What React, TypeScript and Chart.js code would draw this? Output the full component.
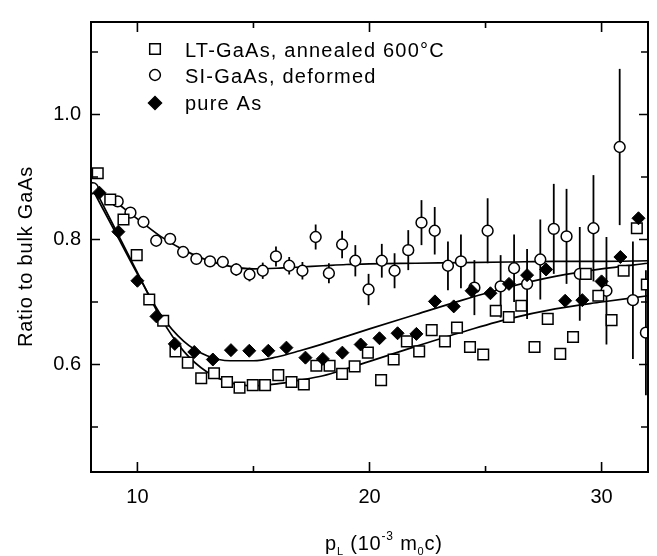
import { useEffect, useRef } from 'react';
import { Chart, registerables } from 'chart.js';

Chart.register(...registerables);

// ---- Data ----
const SQ_X = [8.29, 8.83, 9.40, 9.97, 10.51, 11.11, 11.64, 12.17, 12.75, 13.30, 13.86, 14.40, 14.97, 15.50, 16.07, 16.64, 17.17, 17.71, 18.28, 18.82, 19.36, 19.93, 20.50, 21.04, 21.61, 22.14, 22.68, 23.25, 23.77, 24.33, 24.90, 25.44, 26.00, 26.54, 27.11, 27.68, 28.22, 28.77, 29.32, 29.86, 30.43, 30.95, 31.52, 31.95];
const SQ_Y = [0.906, 0.864, 0.832, 0.775, 0.704, 0.670, 0.621, 0.603, 0.578, 0.586, 0.572, 0.563, 0.567, 0.567, 0.583, 0.572, 0.568, 0.598, 0.598, 0.585, 0.597, 0.619, 0.575, 0.608, 0.637, 0.621, 0.655, 0.637, 0.659, 0.628, 0.616, 0.686, 0.676, 0.694, 0.628, 0.673, 0.617, 0.644, 0.745, 0.710, 0.671, 0.750, 0.818, 0.728];

const CI_X = [8.08, 9.15, 9.70, 10.26, 10.81, 11.41, 11.97, 12.54, 13.13, 13.68, 14.26, 14.83, 15.40, 15.97, 16.54, 17.11, 17.68, 18.25, 18.82, 19.39, 19.96, 20.53, 21.08, 21.67, 22.24, 22.81, 23.38, 23.94, 24.52, 25.09, 25.65, 26.23, 26.79, 27.36, 27.94, 28.49, 29.06, 29.65, 30.21, 30.78, 31.35, 31.91];
const CI_Y = [0.882, 0.861, 0.843, 0.828, 0.798, 0.801, 0.780, 0.769, 0.765, 0.764, 0.752, 0.744, 0.750, 0.773, 0.758, 0.750, 0.804, 0.746, 0.792, 0.766, 0.720, 0.766, 0.750, 0.783, 0.827, 0.814, 0.758, 0.765, 0.723, 0.814, 0.725, 0.754, 0.729, 0.768, 0.817, 0.805, 0.745, 0.818, 0.718, 0.948, 0.703, 0.651];
const CI_ERR = [0.004, 0.004, 0.005, 0.005, 0.006, 0.006, 0.007, 0.008, 0.008, 0.009, 0.010, 0.011, 0.013, 0.016, 0.014, 0.014, 0.020, 0.016, 0.022, 0.025, 0.025, 0.027, 0.028, 0.032, 0.036, 0.038, 0.039, 0.043, 0.044, 0.052, 0.050, 0.054, 0.056, 0.064, 0.072, 0.076, 0.075, 0.085, 0.086, 0.125, 0.094, 0.100];

const DI_X = [8.36, 9.18, 10.0, 10.82, 11.61, 12.45, 13.25, 14.03, 14.82, 15.64, 16.42, 17.24, 17.99, 18.83, 19.62, 20.43, 21.21, 22.02, 22.82, 23.63, 24.40, 25.21, 26.01, 26.79, 27.61, 28.43, 29.17, 30.0, 30.81, 31.59];
const DI_Y = [0.875, 0.8125, 0.734, 0.677, 0.633, 0.620, 0.608, 0.623, 0.622, 0.622, 0.627, 0.611, 0.609, 0.619, 0.632, 0.642, 0.650, 0.649, 0.701, 0.693, 0.718, 0.714, 0.729, 0.743, 0.752, 0.702, 0.703, 0.733, 0.772, 0.834];

// fitted curves
const FIT_X = [8, 9, 10, 11, 12, 13, 14, 15, 16, 17, 18, 19, 20, 22, 24, 26, 28, 30, 32];
const FIT_SQ = [0.893, 0.820, 0.747, 0.675, 0.621, 0.588, 0.571, 0.566, 0.569, 0.575, 0.582, 0.593, 0.605, 0.629, 0.652, 0.673, 0.689, 0.700, 0.710];
const FIT_DI = [0.885, 0.815, 0.745, 0.680, 0.637, 0.614, 0.606, 0.606, 0.612, 0.622, 0.633, 0.645, 0.657, 0.680, 0.703, 0.724, 0.741, 0.753, 0.762];
const FIT_CI = [0.890, 0.862, 0.833, 0.805, 0.783, 0.767, 0.757, 0.753, 0.754, 0.756, 0.758, 0.760, 0.761, 0.762, 0.763, 0.764, 0.765, 0.765, 0.766];

const X_TICKS = [10, 15, 20, 25, 30];
const X_LABELED = [10, 20, 30];
const Y_TICKS = [0.5, 0.6, 0.7, 0.8, 0.9, 1.0, 1.1];
const Y_LABELED = [0.6, 0.8, 1.0];
const LEGEND_LABELS = ['LT-GaAs, annealed 600°C', 'SI-GaAs, deformed', 'pure As'];
const Y_TITLE = 'Ratio to bulk GaAs';

const FONT = "'Liberation Sans', Arial, Helvetica, sans-serif";

const isIn = (arr: number[], v: number) => arr.some((a) => Math.abs(a - v) < 1e-6);

function drawMarker(ctx: CanvasRenderingContext2D, kind: number, x: number, y: number) {
  ctx.beginPath();
  if (kind === 0) {
    const s = 5.3;
    ctx.rect(x - s, y - s, 2 * s, 2 * s);
    ctx.fillStyle = '#fff';
  } else if (kind === 1) {
    ctx.arc(x, y, 5.4, 0, Math.PI * 2);
    ctx.fillStyle = '#fff';
  } else {
    const r = 6.5;
    ctx.moveTo(x - r, y);
    ctx.lineTo(x, y - r);
    ctx.lineTo(x + r, y);
    ctx.lineTo(x, y + r);
    ctx.closePath();
    ctx.fillStyle = '#000';
  }
  ctx.fill();
  ctx.lineWidth = 1.5;
  ctx.strokeStyle = '#000';
  ctx.stroke();
}

const decorPlugin = {
  id: 'decor',
  beforeDatasetsDraw(chart: any) {
    const { ctx, chartArea: a, scales } = chart;
    const xs = scales.x;
    const ys = scales.y;
    ctx.save();
    ctx.beginPath();
    ctx.rect(a.left, a.top, a.right - a.left, a.bottom - a.top);
    ctx.clip();
    ctx.strokeStyle = '#000';
    ctx.lineWidth = 1.8;
    CI_X.forEach((xv, i) => {
      const px = xs.getPixelForValue(xv);
      ctx.beginPath();
      ctx.moveTo(px, ys.getPixelForValue(CI_Y[i] - CI_ERR[i]));
      ctx.lineTo(px, ys.getPixelForValue(CI_Y[i] + CI_ERR[i]));
      ctx.stroke();
    });
    ctx.restore();
  },
  afterDraw(chart: any) {
    const { ctx, chartArea: a, scales } = chart;
    const xs = scales.x;
    const ys = scales.y;
    ctx.save();
    // frame
    ctx.strokeStyle = '#000';
    ctx.lineWidth = 2;
    ctx.strokeRect(a.left, a.top, a.right - a.left, a.bottom - a.top);
    // inward ticks
    ctx.lineWidth = 1.6;
    X_TICKS.forEach((v) => {
      const px = xs.getPixelForValue(v);
      const len = isIn(X_LABELED, v) ? 10 : 6;
      ctx.beginPath();
      ctx.moveTo(px, a.bottom);
      ctx.lineTo(px, a.bottom - len);
      ctx.moveTo(px, a.top);
      ctx.lineTo(px, a.top + len);
      ctx.stroke();
    });
    Y_TICKS.forEach((v) => {
      const py = ys.getPixelForValue(v);
      const len = isIn(Y_LABELED, v) ? 9 : 7;
      ctx.beginPath();
      ctx.moveTo(a.left, py);
      ctx.lineTo(a.left + len, py);
      ctx.moveTo(a.right, py);
      ctx.lineTo(a.right - len, py);
      ctx.stroke();
    });

    ctx.fillStyle = '#000';
    // y title
    ctx.save();
    ctx.translate(31.5, 256.5);
    ctx.rotate(-Math.PI / 2);
    ctx.font = `20px ${FONT}`;
    (ctx as any).letterSpacing = '0.8px';
    ctx.textAlign = 'center';
    ctx.textBaseline = 'alphabetic';
    ctx.fillText(Y_TITLE, 0, 0);
    ctx.restore();

    // x title: p_L (10^-3 m_0c)
    ctx.save();
    (ctx as any).letterSpacing = '0.8px';
    ctx.textAlign = 'left';
    ctx.textBaseline = 'alphabetic';
    const base = 550;
    const parts: [string, number, number][] = [
      ['p', 20, 0],
      ['L', 11, 5],
      [' (10', 20, 0],
      ['-3', 12, -10],
      [' m', 20, 0],
      ['0', 11, 5],
      ['c)', 20, 0],
    ];
    let cx = 325;
    parts.forEach(([t, sz, dy]) => {
      ctx.font = `${sz}px ${FONT}`;
      ctx.fillText(t, cx, base + dy);
      cx += ctx.measureText(t).width;
    });
    ctx.restore();

    // legend
    const legY = [49, 75, 103];
    const legBase = [56.5, 83.2, 110];
    legY.forEach((y, i) => drawMarker(ctx, i, 155, y));
    ctx.fillStyle = '#000';
    ctx.font = `20px ${FONT}`;
    (ctx as any).letterSpacing = '1.2px';
    ctx.textAlign = 'left';
    ctx.textBaseline = 'alphabetic';
    LEGEND_LABELS.forEach((t, i) => ctx.fillText(t, 185, legBase[i]));
    (ctx as any).letterSpacing = '0px';
    ctx.restore();
  },
};

export default function App() {
  const ref = useRef<HTMLCanvasElement | null>(null);

  useEffect(() => {
    document.body.style.margin = '0';
    const canvas = ref.current;
    if (!canvas) return;

    const pts = (xs: number[], ys: number[]) => xs.map((x, i) => ({ x, y: ys[i] }));

    const fitDs = (ys: number[]) => ({
      type: 'line' as const,
      data: pts(FIT_X, ys),
      borderColor: '#000',
      backgroundColor: '#000',
      borderWidth: 1.7,
      pointRadius: 0,
      showLine: true,
      fill: false,
      cubicInterpolationMode: 'monotone' as const,
      order: 3,
      clip: 0,
    });

    const chart = new Chart(canvas, {
      type: 'scatter',
      data: {
        datasets: [
          fitDs(FIT_SQ),
          fitDs(FIT_DI),
          fitDs(FIT_CI),
          {
            label: LEGEND_LABELS[0],
            data: pts(SQ_X, SQ_Y),
            pointStyle: 'rect',
            pointRadius: 7.5,
            backgroundColor: '#fff',
            borderColor: '#000',
            pointBorderWidth: 1.5,
            showLine: false,
            order: 1,
            clip: 0,
          },
          {
            label: LEGEND_LABELS[1],
            data: pts(CI_X, CI_Y),
            pointStyle: 'circle',
            pointRadius: 5.4,
            backgroundColor: '#fff',
            borderColor: '#000',
            pointBorderWidth: 1.5,
            showLine: false,
            order: 1,
            clip: 0,
          },
          {
            label: LEGEND_LABELS[2],
            data: pts(DI_X, DI_Y),
            pointStyle: 'rectRot',
            pointRadius: 6.5,
            backgroundColor: '#000',
            borderColor: '#000',
            pointBorderWidth: 1,
            showLine: false,
            order: 0,
            clip: 0,
          },
        ] as any,
      },
      options: {
        responsive: false,
        animation: false,
        events: [],
        layout: { padding: { top: 10, right: 5, left: 0, bottom: 0 } },
        plugins: {
          legend: { display: false },
          tooltip: { enabled: false },
        },
        scales: {
          x: {
            type: 'linear',
            min: 8,
            max: 32,
            grid: { display: false, drawTicks: false },
            border: { display: false },
            afterBuildTicks: (s: any) => {
              s.ticks = X_TICKS.map((v) => ({ value: v }));
            },
            afterFit: (s: any) => {
              s.height = 84;
            },
            ticks: {
              autoSkip: false,
              maxRotation: 0,
              padding: 13,
              color: '#000',
              font: { family: FONT, size: 20 },
              callback: (v: any) => (isIn(X_LABELED, Number(v)) ? String(v) : ''),
            },
          },
          y: {
            type: 'linear',
            min: 0.428,
            max: 1.148,
            grid: { display: false, drawTicks: false },
            border: { display: false },
            afterBuildTicks: (s: any) => {
              s.ticks = Y_TICKS.map((v) => ({ value: v }));
            },
            afterFit: (s: any) => {
              s.width = 91;
            },
            ticks: {
              autoSkip: false,
              padding: 10,
              color: '#000',
              font: { family: FONT, size: 20 },
              callback: (v: any) => (isIn(Y_LABELED, Number(v)) ? Number(v).toFixed(1) : ''),
            },
          },
        },
      },
      plugins: [decorPlugin],
    });

    return () => chart.destroy();
  }, []);

  return (
    <div style={{ width: 657, height: 556, background: '#fff' }}>
      <canvas ref={ref} width={657} height={556} style={{ display: 'block', width: 657, height: 556 }} />
    </div>
  );
}
